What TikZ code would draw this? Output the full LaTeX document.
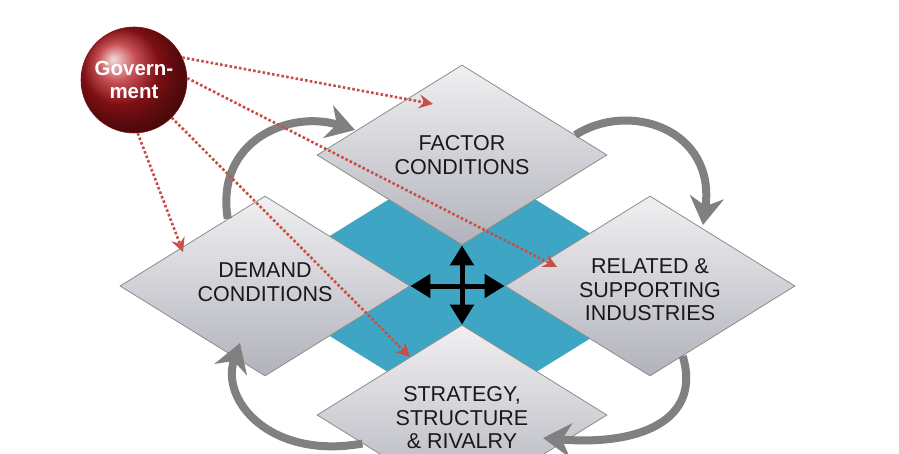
\documentclass[tikz,border=0pt]{standalone}
\usepackage{fontspec}
\setmainfont{Liberation Sans}
\usetikzlibrary{arrows.meta,shapes.geometric}
\definecolor{coreblue}{RGB}{62,166,196}
\definecolor{arcgray}{RGB}{128,128,128}
\definecolor{dotred}{RGB}{200,78,72}
\definecolor{edgegray}{RGB}{140,140,140}
\definecolor{txt}{RGB}{25,25,25}
\definecolor{govred}{RGB}{180,22,28}
\definecolor{facetop}{RGB}{240,240,242}
\definecolor{facebot}{RGB}{178,178,188}
\begin{document}
\begin{tikzpicture}[x=1pt,y=-1pt,
  force/.style={shape=diamond, minimum width=290pt, minimum height=180pt,
    inner sep=0pt, aspect=1.61, draw=edgegray, line width=0.8pt,
    top color=facetop, bottom color=facebot, text=txt, align=center,
    font=\fontsize{21.5}{23.5}\selectfont},
  corebox/.style={shape=diamond, minimum width=426pt, minimum height=264pt,
    inner sep=0pt, fill=coreblue},
  govball/.style={circle, minimum size=106pt, inner sep=0pt, shading=ball,
    ball color=govred, draw=govred!70!black, line width=0.6pt, text=white,
    align=center, font=\bfseries\fontsize{20.5}{23}\selectfont},
  dotline/.style={draw=dotred, line width=2.6pt, dash pattern=on 2.6pt off 2.2pt,
    -{Stealth[length=14pt,width=14pt,inset=5pt]}},
  arcline/.style={draw=arcgray, line width=8pt,
    -{Stealth[length=28pt,width=34pt,inset=9pt]}},
  hubline/.style={draw=black, line width=5pt,
    {Triangle[length=20pt,width=23pt]}-{Triangle[length=20pt,width=23pt]}}
]
\useasboundingbox (0,0) rectangle (899,454);
\fill[white] (0,0) rectangle (899,454);

% blue core
\node[corebox] (core) at (462,286) {};

% the four forces
\node[force] (factor) at (462,155) {FACTOR\\CONDITIONS};
\node[force] (demand) at (265,286) {DEMAND\\CONDITIONS\rule[-8pt]{0pt}{0pt}};
\node[force] (related) at (650,286) {\rule{0pt}{23pt}RELATED \&\\SUPPORTING\\INDUSTRIES};
\node[force] (strategy) at (462,415) {\rule{0pt}{21pt}STRATEGY,\\STRUCTURE\\\& RIVALRY};

% gray cycle arrows
\coordinate (arcA) at (355,130);
\coordinate (arcB) at (703,225);
\coordinate (arcC) at (543,438);
\coordinate (arcD) at (240,343);
\draw[arcline] (demand.119) .. controls (215,140) and (290,110) .. (arcA);
\draw[arcline] (factor.10) .. controls (630,100) and (716,130) .. (arcB);
\draw[arcline] (related.-65) .. controls (702,420) and (640,446) .. (arcC);
\draw[arcline] (strategy.196) .. controls (270,460) and (220,400) .. (arcD);

% central four-way arrow
\draw[hubline] (demand.east) -- (related.west);
\draw[hubline] (factor.south) -- (strategy.north);

% government
\node[govball] (gov) at (134,80) {Govern-\\ment};
\coordinate (tipF) at (433,104);
\coordinate (tipR) at (557,267);
\coordinate (tipS) at (410,357);
\coordinate (tipD) at (183,252);
\draw[dotline] (gov.25) -- (tipF);
\draw[dotline] (gov.2) -- (tipR);
\draw[dotline] (gov.-45) -- (tipS);
\draw[dotline] (gov.-86) -- (tipD);
\end{tikzpicture}
\end{document}
